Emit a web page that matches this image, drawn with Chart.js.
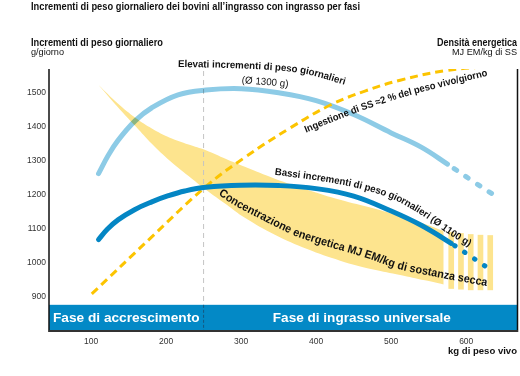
<!DOCTYPE html>
<html>
<head>
<meta charset="utf-8">
<script src="https://cdn.jsdelivr.net/npm/chart.js@4.4.1/dist/chart.umd.min.js"></script>
<style>
    html, body { margin: 0; padding: 0; background: #ffffff; }
    #wrap { width: 520px; height: 376px; }
</style>
</head>
<body>
<div id="wrap"><canvas id="chart" width="520" height="376"></canvas></div>
<script>
'use strict';

// Axis ticks
const xTicks = [100, 200, 300, 400, 500, 600];
const yTicks = [900, 1000, 1100, 1200, 1300, 1400, 1500];

// Elevati incrementi (light blue), dashed after highGainDashFrom
const highGainKg = [110, 123, 136, 159, 181, 216, 253, 300, 350, 400, 450, 500, 540, 575, 610, 640];
const highGainG = [1262, 1316, 1360, 1418, 1456, 1494, 1508, 1512, 1500, 1477, 1436, 1382, 1340, 1290, 1238, 1195];
const highGainDashFrom = 575;

// Bassi incrementi (dark blue), dotted after lowGainDashFrom
const lowGainKg = [110, 122, 136, 158, 181, 203, 225, 253, 300, 350, 400, 450, 500, 540, 580, 605, 632];
const lowGainG = [1068, 1099, 1126, 1156, 1179, 1197, 1211, 1222, 1228, 1227, 1218, 1196, 1152, 1110, 1057, 1020, 980];
const lowGainDashFrom = 580;

// Ingestione di SS (yellow dashed)
const intakeKg = [101, 181, 253, 305, 365, 419, 465, 512, 572, 632];
const intakeVal = [908, 1076, 1224, 1310, 1396, 1464, 1505, 1537, 1565, 1578];

// Concentrazione energetica band (upper / lower edge)
const bandKg = [110, 135, 160, 181, 205, 230, 253, 280, 305, 345, 388, 432, 476, 512, 545, 570];
const bandUpper = [1523, 1470, 1425, 1395, 1368, 1348, 1331, 1305, 1282, 1247, 1215, 1185, 1160, 1137, 1114, 1093];
const bandLower = [1523, 1460, 1400, 1350, 1300, 1255, 1215, 1172, 1132, 1082, 1040, 1006, 980, 964, 948, 936];

// Stripes at the end of the band
const stripeKg = [580, 593, 606, 619, 632];
const stripeTop = [1090, 1086, 1083, 1081, 1080];
const stripeBottom = [924, 922, 920, 920, 920];

// Phases
const phaseSplitKg = 250;
const phaseBandTop = 876;
const phaseLabels = ['Fase di accrescimento', 'Fase di ingrasso universale'];

// Colours
const lightBlue = '#8dcbe6';
const darkBlue = '#0486c4';
const gold = '#fcc400';
const bandYellow = '#fde48e';
const fontFamily = '"Liberation Sans", Arial, Helvetica, sans-serif';

function font(weight, size) {
    return weight + ' ' + size + 'px ' + fontFamily;
}

// Draw text squeezed to a given width
function drawFitText(ctx, text, x, y, f, targetW, align, color) {
    ctx.save();
    ctx.font = f;
    ctx.fillStyle = color || '#111';
    ctx.textBaseline = 'middle';
    ctx.textAlign = 'left';
    let w = ctx.measureText(text).width;
    let sx = targetW ? targetW / w : 1;
    let x0 = align === 'right' ? x - w * sx : (align === 'center' ? x - w * sx / 2 : x);
    ctx.translate(x0, y);
    ctx.scale(sx, 1);
    ctx.fillText(text, 0, 0);
    ctx.restore();
}

// Catmull-Rom densify a polyline
function smoothPath(pts) {
    let out = [];
    for (let i = 0; i < pts.length - 1; i++) {
        let p0 = pts[Math.max(i - 1, 0)], p1 = pts[i], p2 = pts[i + 1], p3 = pts[Math.min(i + 2, pts.length - 1)];
        for (let t = 0; t < 1; t += 0.1) {
            let t2 = t * t, t3 = t2 * t;
            out.push({
                x: 0.5 * (2 * p1.x + (-p0.x + p2.x) * t + (2 * p0.x - 5 * p1.x + 4 * p2.x - p3.x) * t2 + (-p0.x + 3 * p1.x - 3 * p2.x + p3.x) * t3),
                y: 0.5 * (2 * p1.y + (-p0.y + p2.y) * t + (2 * p0.y - 5 * p1.y + 4 * p2.y - p3.y) * t2 + (-p0.y + 3 * p1.y - 3 * p2.y + p3.y) * t3)
            });
        }
    }
    out.push(pts[pts.length - 1]);
    return out;
}

// Draw text along a path, stretched to the path length
function drawTextOnPath(ctx, text, rawPts, f, color) {
    let pts = smoothPath(rawPts);
    let segs = [];
    let total = 0;
    for (let i = 0; i < pts.length - 1; i++) {
        let len = Math.hypot(pts[i + 1].x - pts[i].x, pts[i + 1].y - pts[i].y);
        segs.push({ a: pts[i], b: pts[i + 1], len: len, start: total });
        total += len;
    }
    ctx.save();
    ctx.font = f;
    ctx.fillStyle = color || '#111';
    ctx.textBaseline = 'middle';
    ctx.textAlign = 'center';
    let full = ctx.measureText(text).width;
    let sx = total / full;
    let s = 0;
    for (const ch of text) {
        let w = ctx.measureText(ch).width * sx;
        let d = s + w / 2;
        let seg = segs[segs.length - 1];
        for (const sg of segs) {
            if (d < sg.start + sg.len) { seg = sg; break; }
        }
        let t = (d - seg.start) / seg.len;
        let x = seg.a.x + (seg.b.x - seg.a.x) * t;
        let y = seg.a.y + (seg.b.y - seg.a.y) * t;
        let ang = Math.atan2(seg.b.y - seg.a.y, seg.b.x - seg.a.x);
        ctx.save();
        ctx.translate(x, y);
        ctx.rotate(ang);
        ctx.scale(sx, 1);
        ctx.fillText(ch, 0, 0);
        ctx.restore();
        s += w;
    }
    ctx.restore();
}

// Curved labels, in data units [kg, value]
const labelPaths = [
    { text: 'Elevati incrementi di peso giornalieri', weight: 'bold', size: 10,
      pts: [[216, 1584], [285, 1581], [352, 1573], [392, 1561], [439, 1531]] },
    { text: '(Ø 1300 g)', weight: 'normal', size: 10,
      pts: [[301, 1537], [363, 1525]] },
    { text: 'Ingestione di SS ≈2 % del peso vivo/giorno', weight: 'bold', size: 10,
      pts: [[385, 1390], [445, 1443], [512, 1493], [572, 1528], [628, 1558]] },
    { text: 'Bassi incrementi di peso giornalieri (Ø 1100 g)', weight: 'bold', size: 10,
      pts: [[345, 1267], [405, 1249], [459, 1226], [505, 1193], [545, 1143], [579, 1090], [605, 1055]] },
    { text: 'Concentrazione energetica MJ EM/kg di sostanza secca', weight: 'bold', size: 11.5,
      pts: [[272, 1208], [299, 1170], [365, 1096], [401, 1067], [468, 1023], [512, 990], [555, 970], [628, 940]] }
];

// Decorations plugin
const decorPlugin = {
    id: 'decor',
    beforeDatasetDraw(chart, args) {
        if (args.meta.label === 'high') {
            chart.ctx.save();
            chart.ctx.globalCompositeOperation = 'multiply';
        }
    },
    afterDatasetDraw(chart, args) {
        let ctx = chart.ctx;
        if (args.meta.label === 'high') {
            ctx.restore();
        }
        // Grey divider just above the band
        if (args.meta.label === 'bandLower') {
            let x = chart.scales.x.getPixelForValue(phaseSplitKg);
            ctx.save();
            ctx.strokeStyle = '#c4c4c4';
            ctx.lineWidth = 1;
            ctx.setLineDash([5, 4]);
            ctx.beginPath();
            ctx.moveTo(x, chart.chartArea.top + 2);
            ctx.lineTo(x, chart.scales.y.getPixelForValue(phaseBandTop));
            ctx.stroke();
            ctx.restore();
        }
    },
    afterDatasetsDraw(chart) {
        let ctx = chart.ctx;
        let area = chart.chartArea;
        let xs = chart.scales.x;
        let ys = chart.scales.y;

        // Phase band
        let bandTop = ys.getPixelForValue(phaseBandTop);
        let split = xs.getPixelForValue(phaseSplitKg);
        ctx.save();
        ctx.fillStyle = '#0389c6';
        ctx.fillRect(area.left, bandTop, area.right - area.left, area.bottom - bandTop);
        ctx.strokeStyle = '#15577f';
        ctx.lineWidth = 1;
        ctx.setLineDash([3, 2]);
        ctx.beginPath();
        ctx.moveTo(split, bandTop);
        ctx.lineTo(split, area.bottom);
        ctx.stroke();
        ctx.restore();
        let midY = (bandTop + area.bottom) / 2;
        drawFitText(ctx, phaseLabels[0], area.left + 4, midY, font('bold', 12), split - area.left - 8, 'left', '#ffffff');
        drawFitText(ctx, phaseLabels[1], (split + area.right) / 2 + 1, midY, font('bold', 12), 178, 'center', '#ffffff');

        // Frame
        ctx.save();
        ctx.strokeStyle = '#111';
        ctx.lineWidth = 1.5;
        ctx.beginPath();
        ctx.moveTo(area.left, area.top);
        ctx.lineTo(area.left, area.bottom);
        ctx.moveTo(area.right - 0.5, area.top);
        ctx.lineTo(area.right - 0.5, area.bottom);
        ctx.stroke();
        ctx.strokeStyle = '#333';
        ctx.lineWidth = 2;
        ctx.beginPath();
        ctx.moveTo(area.left, area.bottom - 1);
        ctx.lineTo(area.right, area.bottom - 1);
        ctx.stroke();
        ctx.restore();

        // Curved labels
        for (const lp of labelPaths) {
            let pts = lp.pts.map(p => ({ x: xs.getPixelForValue(p[0]), y: ys.getPixelForValue(p[1]) }));
            drawTextOnPath(ctx, lp.text, pts, font(lp.weight, lp.size), '#111');
        }

        // Titles
        drawFitText(ctx, 'Incrementi di peso giornaliero dei bovini all’ingrasso con ingrasso per fasi', 31, 7, font('bold', 10), 329, 'left');
        drawFitText(ctx, 'Incrementi di peso giornaliero', 31, 43, font('bold', 10), 132, 'left');
        drawFitText(ctx, 'g/giorno', 31, 52, font('normal', 9.5), 33, 'left');
        drawFitText(ctx, 'Densità energetica', 517, 43, font('bold', 10), 80, 'right');
        drawFitText(ctx, 'MJ EM/kg di SS', 517, 52, font('normal', 9.5), 65, 'right');
        drawFitText(ctx, 'kg di peso vivo', 517, 351, font('bold', 9.5), 69, 'right');
    }
};

// Build chart
const ctx = document.getElementById('chart').getContext('2d');
const chart = new Chart(ctx, {
    type: 'line',
    data: {
        datasets: [
            {
                label: 'low',
                data: lowGainKg.map((x, i) => ({ x: x, y: lowGainG[i] })),
                borderColor: darkBlue,
                borderWidth: 5,
                borderCapStyle: 'round',
                borderDash: [],
                pointRadius: 0,
                tension: 0.4,
                order: 0,
                segment: {
                    borderDash: c => c.p0.parsed.x >= lowGainDashFrom ? [0.5, 11.5] : undefined,
                    borderDashOffset: c => c.p0.parsed.x >= lowGainDashFrom ? -4 : undefined
                }
            },
            {
                label: 'intake',
                data: intakeKg.map((x, i) => ({ x: x, y: intakeVal[i] })),
                borderColor: gold,
                borderWidth: 3,
                borderDash: [8, 5],
                pointRadius: 0,
                tension: 0.4,
                order: 1
            },
            {
                label: 'high',
                data: highGainKg.map((x, i) => ({ x: x, y: highGainG[i] })),
                borderColor: lightBlue,
                borderWidth: 5,
                borderCapStyle: 'round',
                borderDash: [],
                pointRadius: 0,
                tension: 0.4,
                order: 2,
                segment: {
                    borderDash: c => c.p0.parsed.x >= highGainDashFrom ? [3, 11] : undefined,
                    borderDashOffset: c => c.p0.parsed.x >= highGainDashFrom ? -8 : undefined
                }
            },
            {
                label: 'stripes',
                type: 'bar',
                data: stripeKg.map((x, i) => ({ x: x, y: [stripeBottom[i], stripeTop[i]] })),
                backgroundColor: bandYellow,
                borderWidth: 0,
                barThickness: 5,
                grouped: false,
                order: 3
            },
            {
                label: 'bandUpper',
                data: bandKg.map((x, i) => ({ x: x, y: bandUpper[i] })),
                borderWidth: 0,
                borderColor: 'rgba(0,0,0,0)',
                pointRadius: 0,
                tension: 0.4,
                fill: false,
                order: 4
            },
            {
                label: 'bandLower',
                data: bandKg.map((x, i) => ({ x: x, y: bandLower[i] })),
                borderWidth: 0,
                borderColor: 'rgba(0,0,0,0)',
                backgroundColor: bandYellow,
                pointRadius: 0,
                tension: 0.4,
                fill: '-1',
                order: 5
            }
        ]
    },
    options: {
        responsive: false,
        animation: false,
        events: [],
        layout: {
            padding: { top: 69, right: 2, left: 0, bottom: 0 }
        },
        plugins: {
            legend: { display: false },
            tooltip: { enabled: false },
            title: { display: false }
        },
        scales: {
            x: {
                type: 'linear',
                min: 44,
                max: 669,
                offset: false,
                grid: { display: false, drawTicks: false },
                border: { display: false },
                afterBuildTicks: s => { s.ticks = xTicks.map(v => ({ value: v })); },
                afterFit: s => { s.height = 44; },
                ticks: {
                    padding: 5,
                    maxRotation: 0,
                    color: '#333',
                    font: { family: fontFamily, size: 8.5 },
                    callback: v => String(v)
                }
            },
            y: {
                type: 'linear',
                min: 796,
                max: 1570,
                grid: { display: false, drawTicks: false },
                border: { display: false },
                afterBuildTicks: s => { s.ticks = yTicks.map(v => ({ value: v })); },
                afterFit: s => { s.width = 49; },
                ticks: {
                    padding: 3,
                    color: '#333',
                    font: { family: fontFamily, size: 8.5 },
                    callback: v => String(v)
                }
            }
        }
    },
    plugins: [decorPlugin]
});
</script>
</body>
</html>
